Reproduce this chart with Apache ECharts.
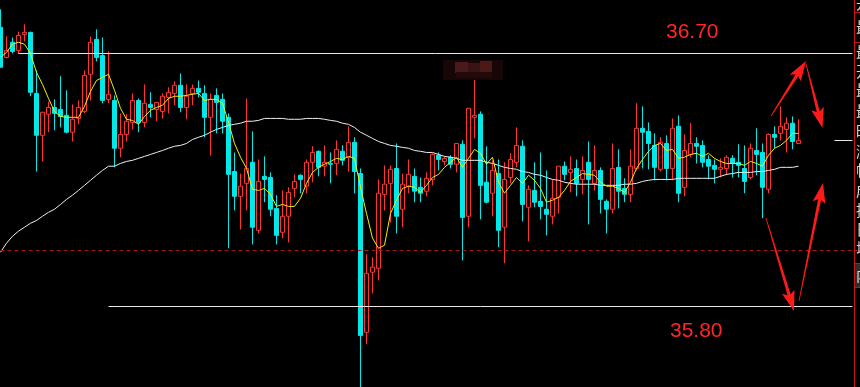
<!DOCTYPE html>
<html>
<head>
<meta charset="utf-8">
<script src="https://cdn.jsdelivr.net/npm/echarts@6/dist/echarts.min.js"></script>
<style>
html,body{margin:0;padding:0;background:#000;}
#chart{width:860px;height:387px;}
</style>
</head>
<body>
<div id="chart"></div>
<script>
// ---- data ----
const categories = Array.from({length: 144}, (_, i) => String(i));

const openP = [
36.793,36.686,36.740,36.711,36.768,36.775,36.558,36.409,36.484,36.508,
36.501,36.480,36.420,36.469,36.494,36.626,36.750,36.693,36.537,36.533,
36.363,36.412,36.455,36.533,36.455,36.519,36.501,36.494,36.544,36.558,
36.587,36.508,36.558,36.576,36.558,36.473,36.551,36.537,36.473,36.280,
36.192,36.238,36.313,36.071,36.263,36.259,36.149,36.064,36.121,36.220,
36.267,36.228,36.313,36.352,36.299,36.309,36.309,36.352,36.331,36.384,
36.273,35.708,35.922,35.936,36.199,36.238,36.291,36.146,36.228,36.263,
36.224,36.210,36.252,36.338,36.316,36.331,36.306,36.377,36.121,36.473,
36.484,36.242,36.203,36.273,36.082,36.259,36.313,36.370,36.153,36.213,
36.174,36.146,36.121,36.188,36.299,36.277,36.291,36.252,36.313,36.238,
36.284,36.174,36.146,36.295,36.220,36.199,36.291,36.434,36.423,36.373,
36.288,36.380,36.291,36.441,36.224,36.341,36.380,36.373,36.323,36.302,
36.288,36.291,36.327,36.313,36.291,36.259,36.355,36.348,36.217,36.412,
36.416,36.430,36.452,36.380
];
const closeP = [
36.651,36.711,36.707,36.764,36.775,36.562,36.409,36.491,36.508,36.487,
36.476,36.420,36.466,36.508,36.622,36.740,36.686,36.533,36.555,36.363,
36.412,36.459,36.533,36.455,36.523,36.508,36.526,36.548,36.562,36.587,
36.508,36.548,36.576,36.562,36.473,36.537,36.526,36.459,36.270,36.192,
36.228,36.291,36.082,36.245,36.252,36.146,36.053,36.121,36.206,36.245,
36.252,36.313,36.348,36.295,36.313,36.306,36.359,36.320,36.384,36.280,
35.697,35.918,35.940,36.203,36.235,36.288,36.121,36.235,36.270,36.210,
36.203,36.256,36.341,36.323,36.327,36.306,36.380,36.117,36.505,36.480,
36.231,36.171,36.284,36.071,36.252,36.323,36.373,36.163,36.217,36.171,
36.156,36.128,36.185,36.299,36.270,36.288,36.238,36.284,36.252,36.284,
36.181,36.146,36.291,36.210,36.199,36.299,36.434,36.420,36.380,36.295,
36.384,36.291,36.434,36.203,36.355,36.380,36.370,36.313,36.299,36.288,
36.295,36.331,36.309,36.302,36.245,36.363,36.341,36.224,36.412,36.402,
36.441,36.452,36.387,36.391
];
const lowP = [
36.651,36.683,36.700,36.700,36.743,36.548,36.280,36.316,36.420,36.427,
36.437,36.416,36.387,36.448,36.487,36.533,36.672,36.523,36.523,36.295,
36.331,36.387,36.430,36.420,36.437,36.473,36.459,36.469,36.487,36.516,
36.491,36.466,36.516,36.544,36.402,36.337,36.416,36.416,36.007,36.142,
36.074,36.142,36.021,36.060,36.171,36.121,36.021,36.043,36.028,36.188,
36.203,36.203,36.242,36.263,36.263,36.238,36.267,36.302,36.280,36.203,
35.495,35.666,35.847,35.893,36.142,36.099,36.060,36.082,36.203,36.171,
36.171,36.192,36.231,36.284,36.302,36.291,36.277,35.964,36.082,36.398,
36.110,36.167,36.121,36.011,35.954,36.238,36.295,36.103,36.032,36.153,
36.110,36.053,36.092,36.131,36.249,36.206,36.192,36.199,36.092,36.213,
36.131,36.060,36.131,36.149,36.171,36.171,36.284,36.291,36.288,36.249,
36.280,36.249,36.249,36.171,36.192,36.331,36.309,36.295,36.252,36.238,
36.259,36.267,36.259,36.259,36.203,36.252,36.267,36.114,36.203,36.363,
36.391,36.348,36.359,36.380
];
const highP = [
36.857,36.761,36.757,36.778,36.804,36.778,36.640,36.491,36.529,36.537,
36.619,36.569,36.519,36.533,36.640,36.761,36.786,36.757,36.708,36.551,
36.487,36.484,36.558,36.540,36.590,36.562,36.526,36.558,36.580,36.601,
36.629,36.590,36.590,36.604,36.587,36.558,36.576,36.558,36.487,36.348,
36.273,36.540,36.423,36.323,36.334,36.277,36.196,36.213,36.224,36.270,
36.270,36.323,36.370,36.355,36.373,36.348,36.391,36.373,36.441,36.402,
36.291,35.986,35.975,36.252,36.302,36.302,36.380,36.273,36.323,36.291,
36.259,36.277,36.345,36.348,36.334,36.338,36.380,36.391,36.505,36.608,
36.494,36.370,36.320,36.323,36.313,36.345,36.437,36.391,36.231,36.313,
36.348,36.284,36.252,36.299,36.316,36.334,36.323,36.334,36.387,36.373,
36.295,36.181,36.380,36.359,36.256,36.359,36.523,36.512,36.455,36.416,
36.402,36.409,36.469,36.480,36.412,36.452,36.402,36.391,36.338,36.323,
36.327,36.338,36.338,36.377,36.373,36.380,36.434,36.380,36.416,36.441,
36.512,36.473,36.476,36.466
];
// short moving average (yellow)
const maShort = [
36.686,36.704,36.733,36.740,36.733,36.700,36.633,36.590,36.540,36.494,
36.476,36.473,36.473,36.473,36.512,36.565,36.604,36.615,36.626,36.569,
36.505,36.466,36.462,36.448,36.476,36.498,36.508,36.516,36.540,36.548,
36.548,36.551,36.555,36.558,36.533,36.537,36.537,36.523,36.455,36.380,
36.331,36.291,36.217,36.213,36.220,36.199,36.156,36.163,36.156,36.156,
36.185,36.238,36.277,36.295,36.306,36.316,36.327,36.323,36.334,36.327,
36.224,36.131,36.043,36.007,36.018,36.131,36.178,36.220,36.228,36.224,
36.206,36.231,36.259,36.270,36.295,36.313,36.331,36.295,36.327,36.359,
36.345,36.306,36.331,36.242,36.203,36.231,36.259,36.238,36.267,36.249,
36.220,36.171,36.178,36.188,36.213,36.245,36.259,36.273,36.270,36.267,
36.242,36.228,36.228,36.220,36.206,36.242,36.291,36.323,36.352,36.373,
36.380,36.355,36.359,36.327,36.331,36.341,36.345,36.334,36.345,36.327,
36.316,36.309,36.309,36.309,36.302,36.316,36.309,36.299,36.338,36.363,
36.373,36.391,36.416,36.416
];
// long moving average (white)
const maLong = [
35.993,36.025,36.050,36.068,36.082,36.096,36.106,36.121,36.135,36.146,
36.163,36.181,36.196,36.213,36.231,36.249,36.267,36.284,36.299,36.299,
36.309,36.316,36.320,36.327,36.334,36.341,36.348,36.355,36.363,36.370,
36.373,36.380,36.394,36.402,36.409,36.420,36.430,36.437,36.444,36.448,
36.452,36.459,36.459,36.462,36.469,36.469,36.469,36.469,36.466,36.466,
36.466,36.469,36.469,36.469,36.466,36.462,36.459,36.452,36.448,36.437,
36.420,36.409,36.398,36.387,36.380,36.373,36.370,36.366,36.363,36.355,
36.352,36.348,36.348,36.341,36.334,36.331,36.327,36.320,36.320,36.320,
36.320,36.313,36.309,36.302,36.295,36.291,36.288,36.280,36.277,36.270,
36.267,36.259,36.252,36.249,36.242,36.238,36.235,36.235,36.235,36.235,
36.231,36.231,36.231,36.231,36.235,36.235,36.238,36.245,36.249,36.252,
36.252,36.252,36.252,36.256,36.256,36.256,36.256,36.256,36.256,36.256,
36.263,36.270,36.273,36.277,36.277,36.277,36.280,36.280,36.284,36.288,
36.295,36.295,36.295,36.299
];
// reference price levels
const upperLevel = 36.70;
const lowerLevel = 35.80;
const baseLevel = 35.999;
const lastPrice = 36.3905;
const upperLabel = '36.70';
const lowerLabel = '35.80';
const panelChars = ['开','最','最','开','最','最','昨','涨','幅','成','持','日','增','内'];

// ---- build ----
const candleData = openP.map((o, i) => [o, closeP[i], lowP[i], highP[i]]);

const RED = '#ff3333';
const CYAN = '#00e8e8';

const chart = echarts.init(document.getElementById('chart'), null, {renderer: 'canvas'});

function hline(fromIdx, toIdx, val, color, type) {
  return [
    {coord: [String(fromIdx), val], lineStyle: {color: color, width: 1, type: type || 'solid'}},
    {coord: [String(toIdx), val]}
  ];
}

const option = {
  backgroundColor: '#000000',
  animation: false,
  grid: {left: 0.5, top: 0, width: 858, height: 387, containLabel: false},
  xAxis: {
    type: 'category', data: categories, boundaryGap: false,
    show: false, axisLine: {show: false}, axisTick: {show: false}, axisLabel: {show: false}, splitLine: {show: false}
  },
  yAxis: {
    type: 'value', min: 35.5136, max: 36.8903, scale: true,
    show: false, splitLine: {show: false}
  },
  series: [
    {
      type: 'candlestick',
      data: candleData,
      barWidth: 4,
      clip: true,
      itemStyle: {
        color: '#000000', color0: CYAN,
        borderColor: RED, borderColor0: CYAN, borderWidth: 1
      },
      markLine: {
        silent: true, symbol: ['none', 'none'], animation: false,
        label: {show: false},
        data: [
          hline(3, 142, upperLevel, '#e8e8e8'),
          hline(18, 142, lowerLevel, '#e8e8e8'),
          hline(139, 142, lastPrice, '#e8e8e8'),
          hline(0, 143, baseLevel, '#a01818', [4, 3])
        ]
      }
    },
    {
      type: 'line', data: maLong, showSymbol: false, symbol: 'none',
      lineStyle: {color: '#f0f0f0', width: 1}, z: 3
    },
    {
      type: 'line', data: maShort, showSymbol: false, symbol: 'none',
      lineStyle: {color: '#f2f200', width: 1}, z: 4
    }
  ]
};
chart.setOption(option);

// ---- annotations ----
function arrowPoints(tx, ty, px, py) {
  const dx = px - tx, dy = py - ty, L = Math.hypot(dx, dy);
  const ux = dx / L, uy = dy / L, nx = -uy, ny = ux;
  const hl = 17, hw = 6.5, w0 = 0.4, w1 = 1.6;
  const bx = px - ux * hl, by = py - uy * hl;
  const sx = bx - ux * 3, sy = by - uy * 3;
  return [
    [tx + nx * w0, ty + ny * w0],
    [bx + nx * w1, by + ny * w1],
    [sx + nx * hw, sy + ny * hw],
    [px, py],
    [sx - nx * hw, sy - ny * hw],
    [bx - nx * w1, by - ny * w1],
    [tx - nx * w0, ty - ny * w0]
  ];
}
const arrows = [
  [771, 116, 806, 61],
  [806, 64, 822.5, 128],
  [766, 218, 794, 311],
  [799, 301, 823, 183]
];
const graphics = [];
arrows.forEach(a => {
  graphics.push({type: 'polygon', shape: {points: arrowPoints(a[0], a[1], a[2], a[3])},
    style: {fill: '#ff1a1a'}, silent: true, z: 100});
});
// blurred watermark blocks
const wm = [
  [443, 60, 60, 20, '#160606'],
  [455, 62, 13, 11, '#4a1a1a'],
  [468, 63, 12, 10, '#3a1414'],
  [480, 61, 12, 12, '#4c1919'],
  [456, 72, 36, 6, '#220a0a']
];
wm.forEach(r => graphics.push({type: 'rect', shape: {x: r[0], y: r[1], width: r[2], height: r[3]},
  style: {fill: r[4]}, silent: true, z: 90}));

graphics.push({type: 'text', x: 666, y: 32, style: {text: upperLabel, fill: '#ff2626',
  font: '21px "Liberation Sans", Arial, sans-serif', textVerticalAlign: 'middle', textAlign: 'left'}, z: 100});
graphics.push({type: 'text', x: 670, y: 331, style: {text: lowerLabel, fill: '#ff2626',
  font: '21px "Liberation Sans", Arial, sans-serif', textVerticalAlign: 'middle', textAlign: 'left'}, z: 100});

// right side info panel (cut off)
graphics.push({type: 'rect', shape: {x: 854.5, y: 263, width: 6, height: 24}, style: {fill: '#2e2e2e'}, z: 100});
graphics.push({type: 'line', shape: {x1: 854.5, y1: 0, x2: 854.5, y2: 387}, style: {stroke: '#c81414', lineWidth: 1}, z: 101});
[12.5, 42.5, 263.5, 287.5].forEach(y => graphics.push({type: 'line', shape: {x1: 854, y1: y, x2: 860, y2: y},
  style: {stroke: '#c81414', lineWidth: 1}, z: 101}));
const charY = [3, 27, 52, 71, 90, 111, 131, 151, 170, 190, 210, 229, 248, 275];
panelChars.forEach((c, i) => graphics.push({type: 'text', x: 856, y: charY[i],
  style: {text: c, fill: '#d8d8d8', font: '15px "Noto Sans CJK SC"', textVerticalAlign: 'middle', textAlign: 'left'}, z: 102}));

chart.setOption({graphic: graphics});
</script>
</body>
</html>
